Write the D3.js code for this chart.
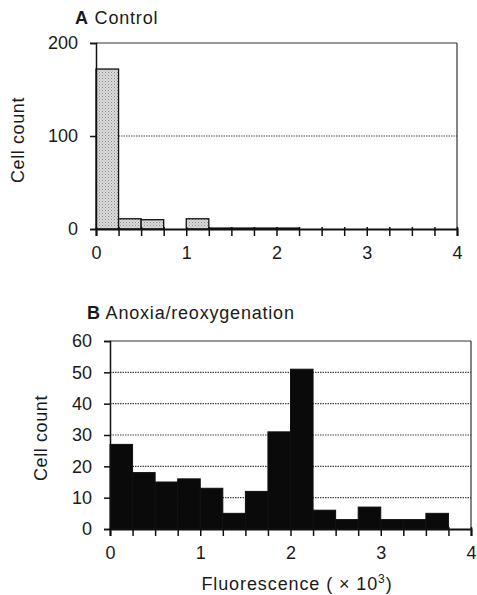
<!DOCTYPE html>
<html><head><meta charset="utf-8">
<script src="https://cdn.jsdelivr.net/npm/d3@7"></script>
<style>body{margin:0;background:#fff}text{font-family:"Liberation Sans",Arial,sans-serif;fill:#1a1a1a}</style>
</head><body><svg id="c" width="477" height="595"></svg>
<script>
const binEdges = [0,0.25,0.5,0.75,1,1.25,1.5,1.75,2,2.25,2.5,2.75,3,3.25,3.5,3.75,4];
const controlCounts = [172,11,10,0,11,1,1,1,1,0,0,0,0,0,0,0];
const anoxiaCounts = [27,18,15,16,13,5,12,31,51,6,3,7,3,3,5,0];
const xTickLabels = [0,1,2,3,4];
const controlYTicks = [0,100,200];
const anoxiaYTicks = [0,10,20,30,40,50,60];

const svg = d3.select("#c");
const FS = 18;

const pat = svg.append("defs").append("pattern").attr("id","stipple")
  .attr("patternUnits","userSpaceOnUse").attr("width",3).attr("height",3);
pat.append("rect").attr("width",3).attr("height",3).attr("fill","#dcdcdc");
pat.append("rect").attr("x",0).attr("y",0).attr("width",1).attr("height",1).attr("fill","#8a8a8a");
pat.append("rect").attr("x",1.5).attr("y",1.5).attr("width",1).attr("height",1).attr("fill","#a0a0a0");

function panel(o){
  const g = svg.append("g");
  const x = d3.scaleLinear().domain([0,4]).range([o.x0,o.x1]);
  const y = d3.scaleLinear().domain([0,o.ymax]).range([o.y0,o.y1]);
  g.selectAll("line.grid").data(o.yTicks.filter(v=>v>0&&v<o.ymax)).enter().append("line")
    .attr("x1",o.x0).attr("x2",o.x1).attr("y1",d=>y(d)).attr("y2",d=>y(d))
    .attr("stroke","#444").attr("stroke-width",1.2).attr("stroke-dasharray","1.5,1");
  const bins = o.counts.map((c,i)=>({x0:binEdges[i],x1:binEdges[i+1],c})).filter(d=>d.c>0);
  g.selectAll("rect.bar").data(bins).enter().append("rect")
    .attr("x",d=>x(d.x0)).attr("width",d=>x(d.x1)-x(d.x0))
    .attr("y",d=>y(d.c)).attr("height",d=>y(0)-y(d.c))
    .attr("fill",o.fill).attr("stroke","#111").attr("stroke-width",o.sw);
  g.append("line").attr("x1",o.x0).attr("x2",o.x1).attr("y1",y(o.ymax)).attr("y2",y(o.ymax)).attr("stroke","#333").attr("stroke-width",1.2);
  g.append("line").attr("x1",o.x1).attr("x2",o.x1).attr("y1",y(o.ymax)).attr("y2",y(0)).attr("stroke","#333").attr("stroke-width",1.2);
  const ya = d3.axisLeft(y).tickValues(o.yTicks).tickSize(6).tickPadding(12).tickFormat(d3.format("d"));
  const yg = g.append("g").attr("transform",`translate(${o.x0},0)`).call(ya);
  yg.select(".domain").attr("stroke","#111").attr("stroke-width",1.5);
  yg.selectAll(".tick line").attr("stroke","#111").attr("stroke-width",1.5);
  yg.selectAll("text").attr("font-size",FS).attr("fill","#1a1a1a").attr("font-family","Liberation Sans, Arial, sans-serif");
  const xa = d3.axisBottom(x).tickValues(binEdges).tickSize(7).tickFormat(d=>xTickLabels.includes(d)?d:"").tickPadding(10);
  const xg = g.append("g").attr("transform",`translate(0,${o.y0})`).call(xa);
  xg.select(".domain").attr("stroke","#111").attr("stroke-width",2);
  xg.selectAll(".tick line").attr("y1",-2).attr("stroke","#111").attr("stroke-width",1.5);
  xg.selectAll("text").attr("font-size",FS).attr("fill","#1a1a1a").attr("font-family","Liberation Sans, Arial, sans-serif");
  const t = g.append("text").attr("x",o.tx).attr("y",o.ty).attr("font-size",FS).attr("letter-spacing",0.8);
  t.append("tspan").attr("font-weight","bold").text(o.letter);
  t.append("tspan").text(" "+o.title);
  g.append("text").attr("transform",`translate(${o.lx},${o.ly}) rotate(-90)`)
    .attr("text-anchor","middle").attr("font-size",FS).attr("letter-spacing",0.6).text("Cell count");
  return {x,y};
}

panel({x0:96,x1:457,y0:229,y1:43,ymax:200,counts:controlCounts,yTicks:controlYTicks,
  fill:"url(#stipple)",sw:1.3,tx:75,ty:24,letter:"A",title:"Control",lx:24,ly:140});
panel({x0:110,x1:471,y0:529,y1:341,ymax:60,counts:anoxiaCounts,yTicks:anoxiaYTicks,
  fill:"#0a0a0a",sw:1,tx:87,ty:319,letter:"B",title:"Anoxia/reoxygenation",lx:47,ly:438});

const xl = svg.append("text").attr("x",297).attr("y",590).attr("text-anchor","middle").attr("font-size",FS).attr("letter-spacing",0.9);
xl.append("tspan").text("Fluorescence ( \u00d7  10");
xl.append("tspan").attr("font-size",12).attr("dy",-7).text("3");
xl.append("tspan").attr("dy",7).text(")");
</script></body></html>
